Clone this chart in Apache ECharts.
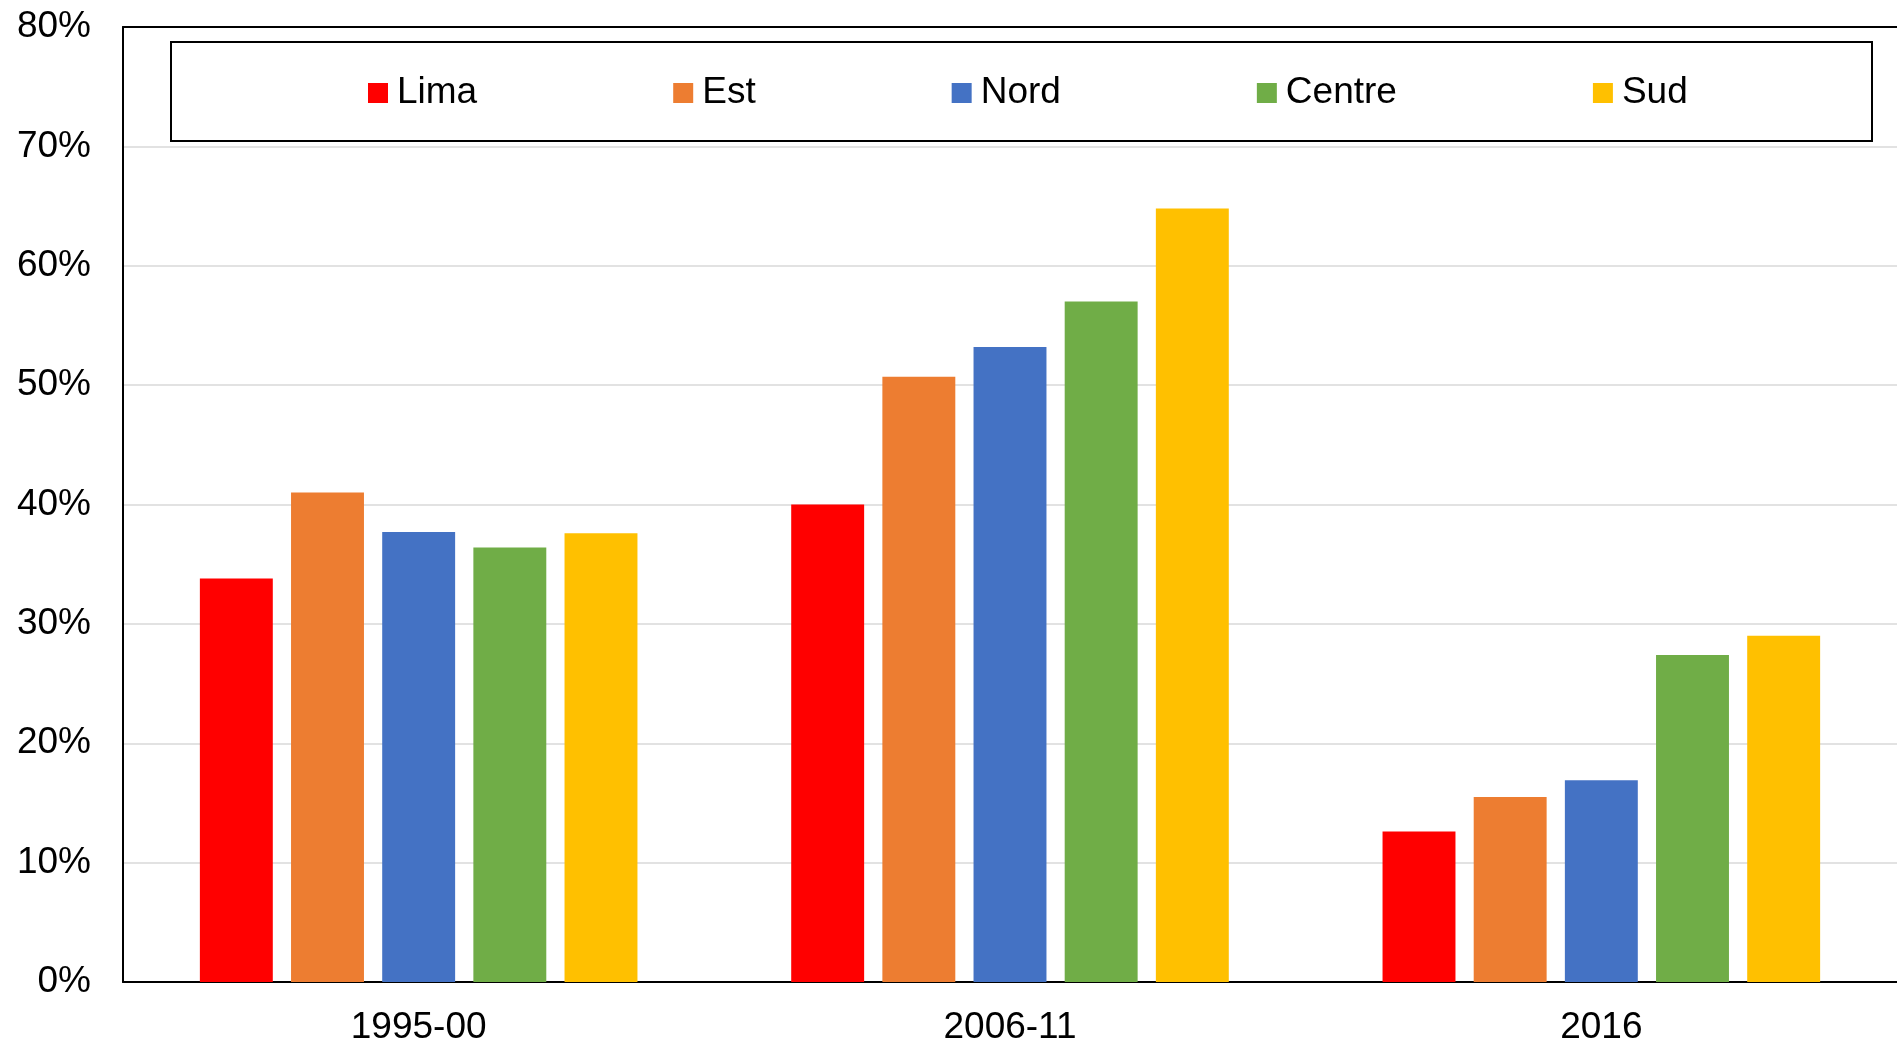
<!DOCTYPE html>
<html>
<head>
<meta charset="utf-8">
<script src="https://cdn.jsdelivr.net/npm/echarts@6/dist/echarts.min.js"></script>
<style>
html,body{margin:0;padding:0;background:#fff;}
#chart{width:1897px;height:1043px;}
</style>
</head>
<body>
<div id="chart"></div>
<script>
const categories = ['1995-00', '2006-11', '2016'];
const seriesNames = ['Lima', 'Est', 'Nord', 'Centre', 'Sud'];
const lima = [33.8, 40.0, 12.6];
const est = [41.0, 50.7, 15.5];
const nord = [37.7, 53.2, 16.9];
const centre = [36.4, 57.0, 27.4];
const sud = [37.6, 64.8, 29.0];
const colors = ['#FF0000', '#ED7D31', '#4472C4', '#70AD47', '#FFC000'];
const FONT = '"Liberation Sans", Arial, sans-serif';

const values = [lima, est, nord, centre, sud];
const chart = echarts.init(document.getElementById('chart'), null, {renderer: 'canvas'});
chart.setOption({
  animation: false,
  backgroundColor: '#fff',
  textStyle: {fontFamily: FONT},
  graphic: [{
    type: 'rect',
    shape: {x: 171, y: 42, width: 1701, height: 99},
    style: {fill: 'none', stroke: '#000', lineWidth: 2},
    z: 10
  }],
  legend: {
    left: 363,
    top: 69,
    itemWidth: 20,
    itemHeight: 20,
    itemGap: 196,
    icon: 'rect',
    textStyle: {fontFamily: FONT, fontSize: 37, color: '#000', lineHeight: 38, padding: [0, 0, 0, 4]},
    data: seriesNames
  },
  grid: {left: 123, top: 27, right: 0, bottom: 61, containLabel: false, outerBoundsMode: 'none'},
  xAxis: [{
    type: 'category',
    data: categories,
    axisLine: {lineStyle: {color: '#000', width: 2}},
    axisTick: {show: false},
    axisLabel: {fontFamily: FONT, fontSize: 37, color: '#000', margin: 27}
  }, {
    type: 'category',
    position: 'top',
    data: categories,
    axisLine: {show: true, lineStyle: {color: '#000', width: 2}},
    axisTick: {show: false},
    axisLabel: {show: false}
  }],
  yAxis: {
    type: 'value',
    min: 0, max: 80, interval: 10,
    axisLine: {show: true, lineStyle: {color: '#000', width: 2}},
    axisTick: {show: false},
    splitLine: {lineStyle: {color: '#d9d9d9', width: 1.5}},
    axisLabel: {fontFamily: FONT, fontSize: 37, color: '#000', margin: 32, formatter: '{value}%'}
  },
  series: seriesNames.map((n, i) => ({
    name: n,
    type: 'bar',
    data: values[i],
    itemStyle: {color: colors[i]},
    barGap: '25%',
    barCategoryGap: '26%'
  }))
});
</script>
</body>
</html>
